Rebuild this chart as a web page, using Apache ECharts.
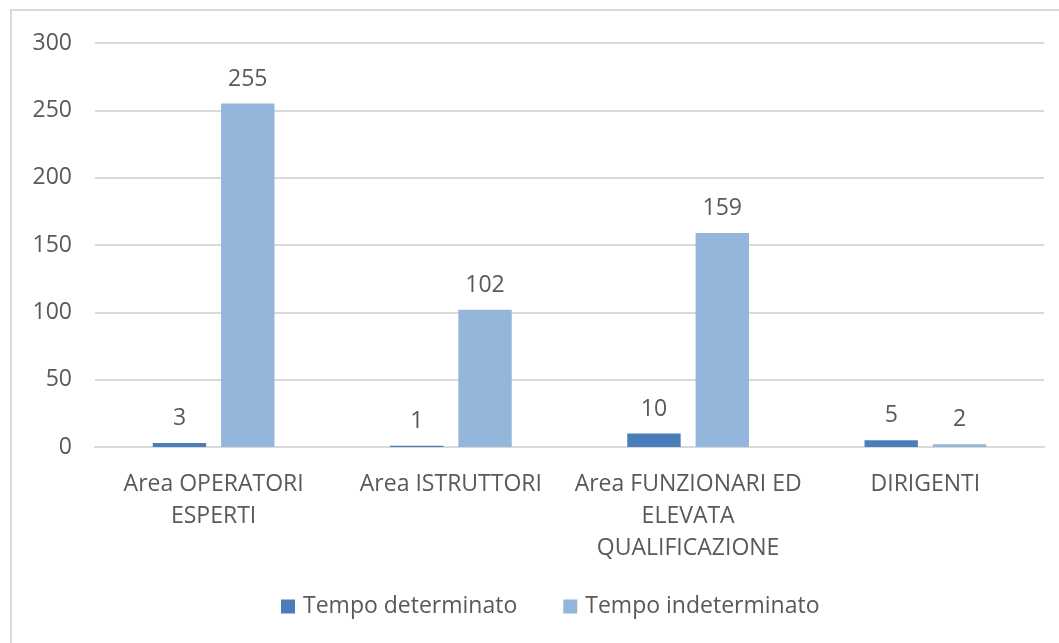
<!DOCTYPE html>
<html><head><meta charset="utf-8">
<script src="https://cdn.jsdelivr.net/npm/echarts@6/dist/echarts.min.js"></script>
<style>html,body{margin:0;padding:0;background:#fff}#c{width:1059px;height:643px}</style>
</head><body><div id="c"></div>
<script>
const categories = ['Area OPERATORI\nESPERTI', 'Area ISTRUTTORI', 'Area FUNZIONARI ED\nELEVATA\nQUALIFICAZIONE', 'DIRIGENTI'];
const tempoDeterminato = [3, 1, 10, 5];
const tempoIndeterminato = [255, 102, 159, 2];
const seriesNames = ['Tempo determinato', 'Tempo indeterminato'];
const yTicks = {min: 0, max: 300, interval: 50};

const FONT = 'Open Sans';
const FS = 23;
const TXT = '#595959';
const chart = echarts.init(document.getElementById('c'), null, {renderer: 'canvas'});
chart.setOption({
  animation: false,
  textStyle: {fontFamily: FONT},
  graphic: [{type: 'rect', shape: {x: 11, y: 10, width: 1200, height: 800}, style: {fill: 'none', stroke: '#D9D9D9', lineWidth: 2}, silent: true}],
  grid: {left: 95, right: 15, top: 43, bottom: 196, containLabel: false},
  legend: {
    data: seriesNames, top: 595, left: 281, itemWidth: 14, itemHeight: 14, itemGap: 46, padding: 0,
    icon: 'rect', textStyle: {color: TXT, fontSize: FS, fontFamily: FONT, padding: [0, 0, 0, 3]}
  },
  xAxis: {
    type: 'category', data: categories,
    axisLine: {lineStyle: {color: '#D9D9D9', width: 2}},
    axisTick: {show: false},
    axisLabel: {color: TXT, fontSize: FS, fontFamily: FONT, margin: 21, lineHeight: 32, interval: 0}
  },
  yAxis: {
    type: 'value', min: yTicks.min, max: yTicks.max, interval: yTicks.interval,
    axisLine: {show: false}, axisTick: {show: false},
    splitLine: {lineStyle: {color: '#D9D9D9', width: 2}},
    axisLabel: {color: TXT, fontSize: FS, fontFamily: FONT, margin: 23}
  },
  series: [
    {name: seriesNames[0], type: 'bar', data: tempoDeterminato, barWidth: '22.5%', barGap: '28%',
     itemStyle: {color: '#4A7EBB'},
     label: {show: true, position: 'top', distance: 13, color: TXT, fontSize: FS, fontFamily: FONT}},
    {name: seriesNames[1], type: 'bar', data: tempoIndeterminato, barWidth: '22.5%', barGap: '28%',
     itemStyle: {color: '#95B6DB'},
     label: {show: true, position: 'top', distance: 13, color: TXT, fontSize: FS, fontFamily: FONT}}
  ]
});
</script></body></html>
